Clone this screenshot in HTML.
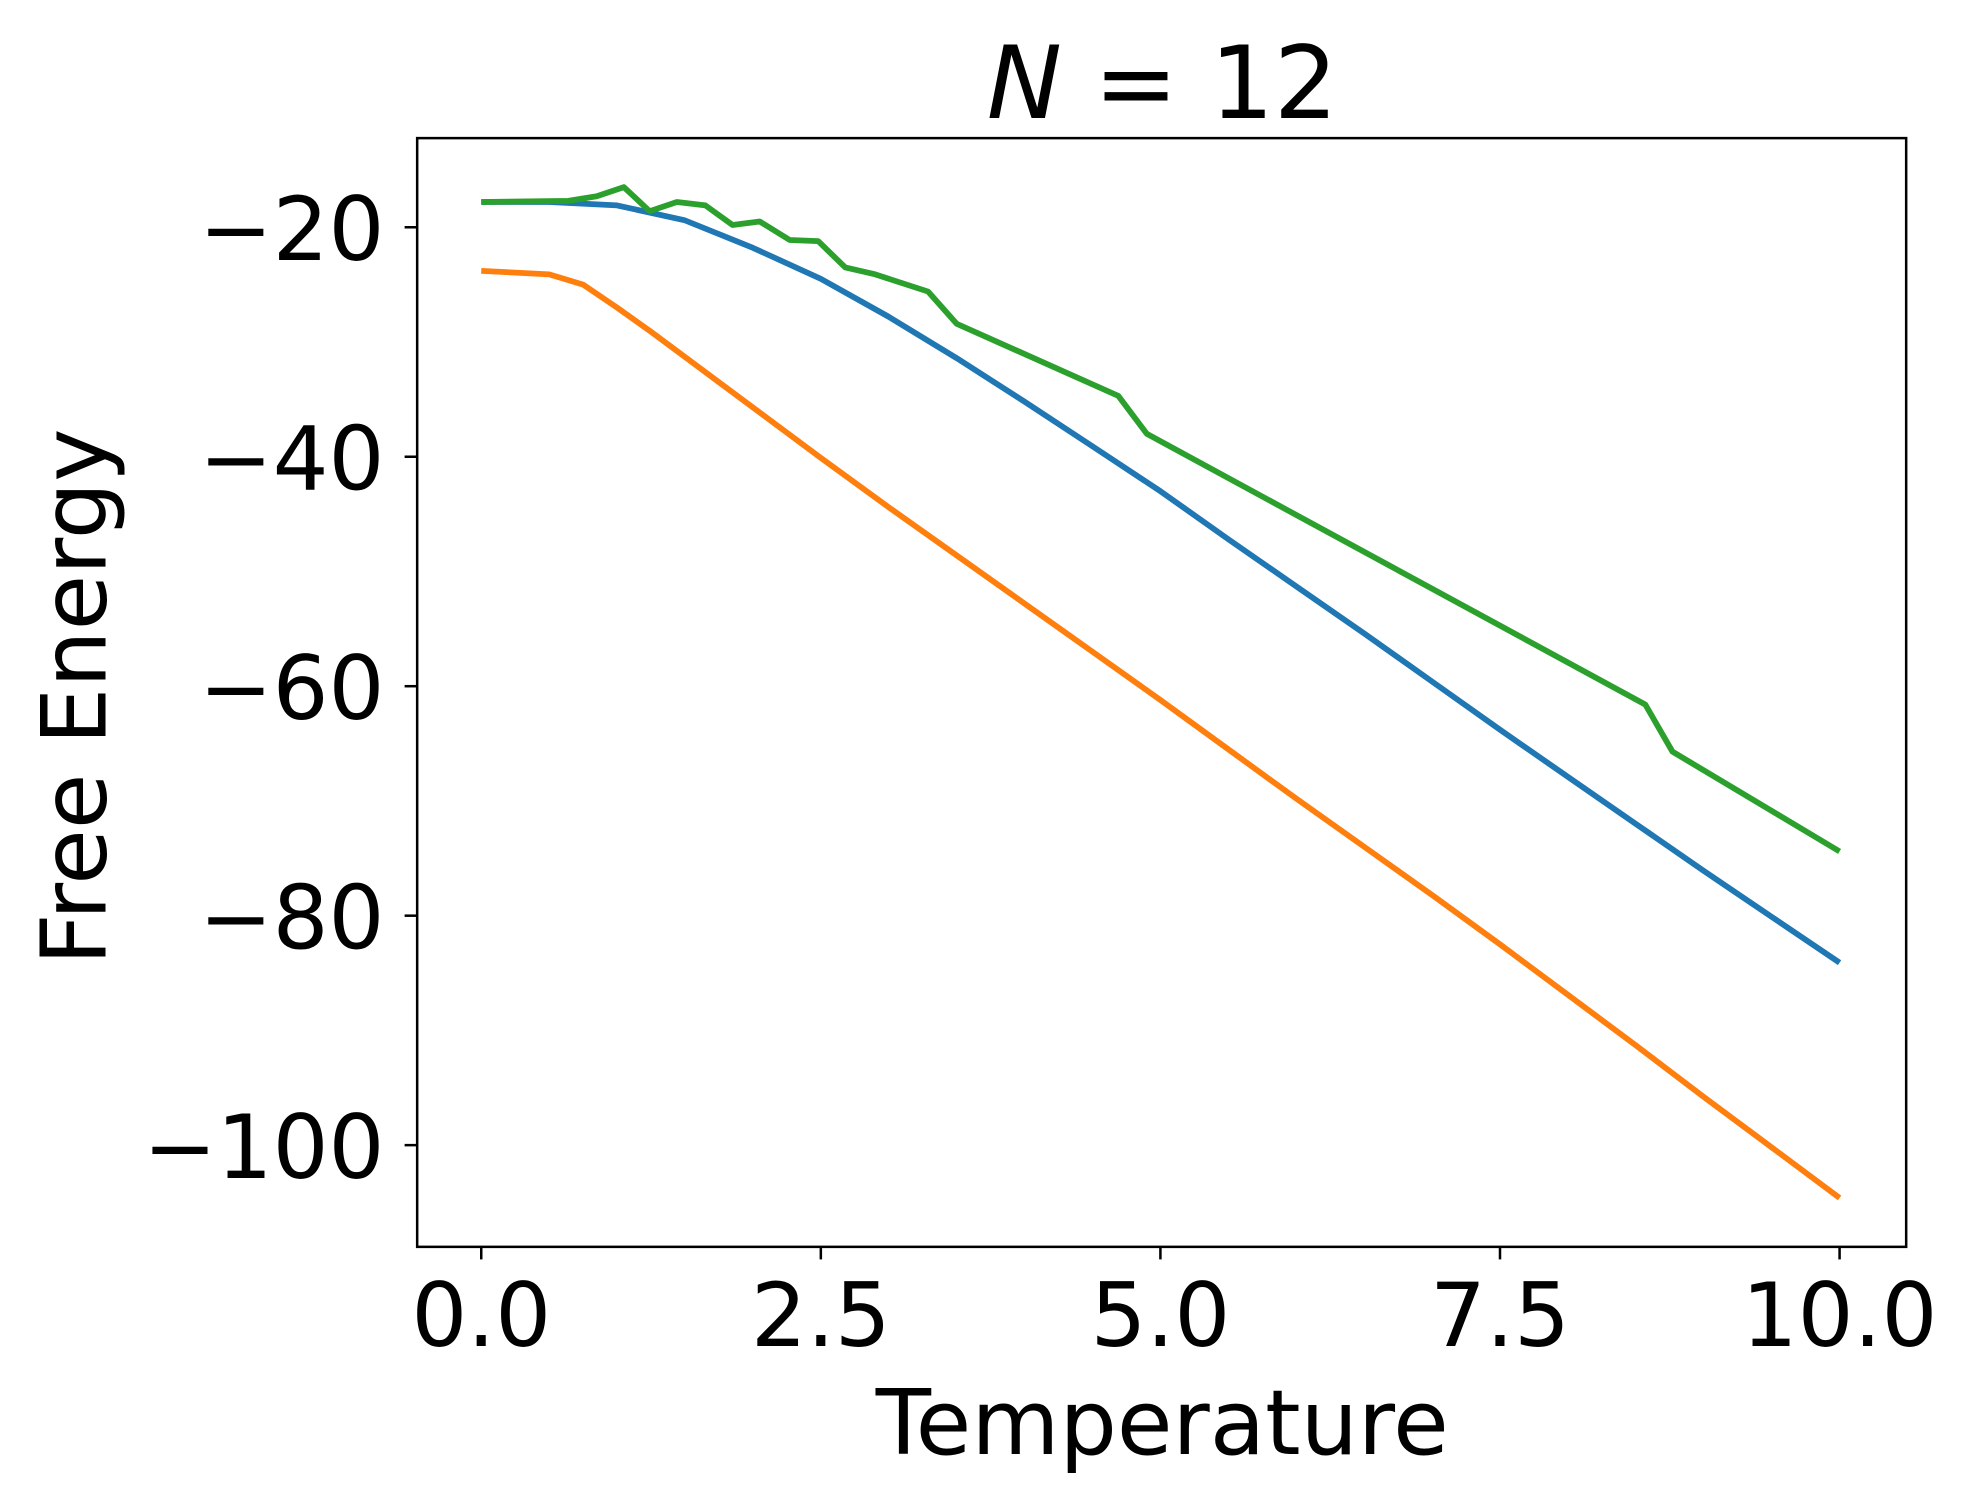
<!DOCTYPE html>
<html><head><meta charset="utf-8"><style>html,body{margin:0;padding:0;background:#fff}svg{display:block}</style></head>
<body>
<svg width="1969" height="1503" viewBox="0 0 1567 1197" preserveAspectRatio="none" xmlns="http://www.w3.org/2000/svg" font-family="'DejaVu Sans','Liberation Sans',sans-serif">
<rect x="0" y="0" width="1567" height="1197" fill="#fff"/>
<g id="series"></g>
<rect x="332" y="110" width="1185" height="883" fill="none" stroke="#000" stroke-width="2"/>
<g id="ticks"></g>
<text x="925" y="94" font-size="80" text-anchor="middle" xml:space="preserve"><tspan font-style="italic">N</tspan> = 12</text>
<text x="925" y="1158" font-size="72" text-anchor="middle">Temperature</text>
<text transform="translate(84,555) rotate(-90)" font-size="72" text-anchor="middle">Free Energy</text>
</svg>
<script>
const blueX = [0,0.5,1,1.5,2,2.5,3,3.5,4,4.5,5,5.5,6,6.5,7,7.5,8,8.5,9,9.5,10];
const blueY = [-17.8,-17.8,-18.1,-19.4,-21.8,-24.5,-27.8,-31.4,-35.2,-39.1,-43.0,-47.2,-51.3,-55.4,-59.6,-63.8,-67.9,-72.0,-76.1,-80.1,-84.1];
const orangeX = [0,0.5,0.75,1,1.25,1.5,2,2.5,3,3.5,4,4.5,5,5.5,6,6.5,7,7.5,8,8.5,9,9.5,10];
const orangeY = [-23.8,-24.1,-25.0,-27.0,-29.1,-31.3,-35.7,-40.1,-44.4,-48.6,-52.8,-57.0,-61.2,-65.5,-69.8,-74.0,-78.2,-82.5,-86.9,-91.3,-95.8,-100.2,-104.6];
const greenX = [0,0.64,0.85,1.05,1.24,1.44,1.65,1.85,2.05,2.27,2.48,2.68,2.9,3.29,3.5,4.69,4.9,8.57,8.77,10];
const greenY = [-17.8,-17.7,-17.3,-16.5,-18.6,-17.8,-18.1,-19.8,-19.5,-21.1,-21.2,-23.5,-24.1,-25.6,-28.4,-34.7,-38.0,-61.6,-65.7,-74.4];
const xTicks = [0,2.5,5,7.5,10];
const xTickLabels = ["0.0","2.5","5.0","7.5","10.0"];
const yTicks = [-20,-40,-60,-80,-100];
const yTickLabels = ["\u221220","\u221240","\u221260","\u221280","\u2212100"];
const NS="http://www.w3.org/2000/svg";
function xs(v){return 383+(v/10)*(1464-383);}
function ys(v){return 181+(-20-v)*(912-181)/80;}
const sg=document.getElementById('series');
function line(X,Y,color,name){
  const p=document.createElementNS(NS,'polyline');
  p.setAttribute('points',X.map((x,i)=>xs(x).toFixed(1)+','+ys(Y[i]).toFixed(1)).join(' '));
  p.setAttribute('fill','none');p.setAttribute('stroke',color);p.setAttribute('stroke-width','4.6');
  p.setAttribute('stroke-linejoin','round');
  
  
  sg.appendChild(p);
}
line(blueX,blueY,'#1f77b4','series-blue-line');
line(orangeX,orangeY,'#ff7f0e','series-orange-line');
line(greenX,greenY,'#2ca02c','series-green-line');
const tg=document.getElementById('ticks');
xTicks.forEach((t,i)=>{
  const l=document.createElementNS(NS,'line');
  l.setAttribute('x1',xs(t));l.setAttribute('x2',xs(t));l.setAttribute('y1',993);l.setAttribute('y2',1003);
  l.setAttribute('stroke','#000');l.setAttribute('stroke-width','2');
  
  
  tg.appendChild(l);
  const tx=document.createElementNS(NS,'text');
  tx.setAttribute('x',xs(t));tx.setAttribute('y',1072);tx.setAttribute('font-size','70');tx.setAttribute('text-anchor','middle');
  tx.textContent=xTickLabels[i];
  
  
  tg.appendChild(tx);
});
yTicks.forEach((t,i)=>{
  const l=document.createElementNS(NS,'line');
  l.setAttribute('x1',322);l.setAttribute('x2',332);l.setAttribute('y1',ys(t));l.setAttribute('y2',ys(t));
  l.setAttribute('stroke','#000');l.setAttribute('stroke-width','2');
  
  
  tg.appendChild(l);
  const tx=document.createElementNS(NS,'text');
  tx.setAttribute('x',306);tx.setAttribute('y',ys(t)+26);tx.setAttribute('font-size','70');tx.setAttribute('text-anchor','end');
  tx.textContent=yTickLabels[i];
  
  
  tg.appendChild(tx);
});
</script>
</body></html>
